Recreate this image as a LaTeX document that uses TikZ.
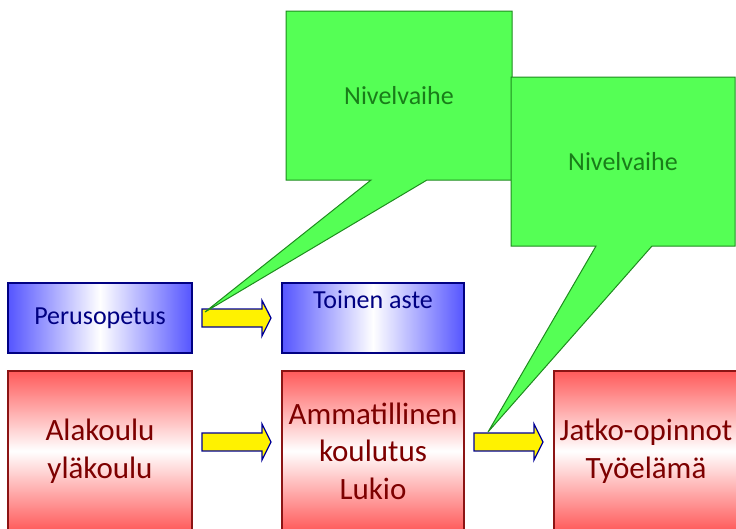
\documentclass[tikz,border=0pt]{standalone}
\usepackage{fontspec}
\setmainfont{Carlito}
\definecolor{blueedge}{RGB}{85,85,255}
\definecolor{bluedark}{RGB}{0,0,130}
\definecolor{redtop}{RGB}{255,90,90}
\definecolor{reddark}{RGB}{125,0,0}
\definecolor{redborder}{RGB}{140,20,20}
\definecolor{greenfill}{RGB}{85,255,85}
\definecolor{greenline}{RGB}{30,140,30}
\definecolor{greentext}{RGB}{25,125,25}
\definecolor{arrowline}{RGB}{0,0,150}
\begin{document}
\begin{tikzpicture}[x=1pt,y=-1pt,
  bluebox/.style={draw=bluedark, line width=1.3pt, left color=blueedge, right color=blueedge, middle color=white,
    minimum height=70pt, inner sep=0pt, outer sep=0pt, text=bluedark, font=\fontsize{26}{31}\selectfont},
  redbox/.style={draw=redborder, line width=1.1pt, top color=redtop, bottom color=redtop, middle color=white,
    minimum height=160pt, inner sep=0pt, outer sep=0pt, text=reddark, align=center,
    font=\fontsize{31}{37.5}\selectfont},
  yarrow/.style={draw=arrowline, line width=1.3pt, fill=yellow, line join=miter},
  callout/.style={draw=greenline, line width=1pt, fill=greenfill, line join=miter},
  callouttext/.style={text=greentext, font=\fontsize{26}{31}\selectfont}
]
\useasboundingbox (0,0) rectangle (736,528);
\clip (0,0) rectangle (736,528);

% boxes
\node[bluebox, minimum width=184pt] (peru) at (100,318) {Perusopetus};
\node[bluebox, minimum width=182pt] (toinen) at (373,318) {};
\node[text=bluedark, font=\fontsize{26}{31}\selectfont, anchor=north, inner sep=7pt] (toinenlbl) at (toinen.north) {Toinen aste};
\node[redbox, minimum width=184pt] (ala) at (100,451) {Alakoulu\\yläkoulu};
\node[redbox, minimum width=182pt] (amm) at (373,451) {Ammatillinen\\koulutus\\Lukio};
\node[redbox, minimum width=184pt] (jatko) at (646,451) {Jatko-opinnot\\Työelämä};

% block arrows
\draw[yarrow] (202,309) -- (262,309) -- (262,300.5) -- (271,318) -- (262,336) -- (262,327) -- (202,327) -- cycle;
\draw[yarrow] (202,433) -- (262,433) -- (262,424) -- (271,442) -- (262,460) -- (262,451) -- (202,451) -- cycle;
\draw[yarrow] (474,433) -- (534,433) -- (534,424) -- (543,442) -- (534,460) -- (534,451) -- (474,451) -- cycle;

% callouts
\coordinate (tip1) at (205,312);
\coordinate (tip2) at (488,432);
\draw[callout] (286,11) -- (512,11) -- (512,180) -- (427,180) -- (tip1) -- (371,180) -- (286,180) -- cycle;
\node[callouttext] (nv1) at (399,95.5) {Nivelvaihe};
\draw[callout] (511,77) -- (735,77) -- (735,246) -- (652,246) -- (tip2) -- (596,246) -- (511,246) -- cycle;
\node[callouttext] (nv2) at (623,161.5) {Nivelvaihe};
\end{tikzpicture}
\end{document}
